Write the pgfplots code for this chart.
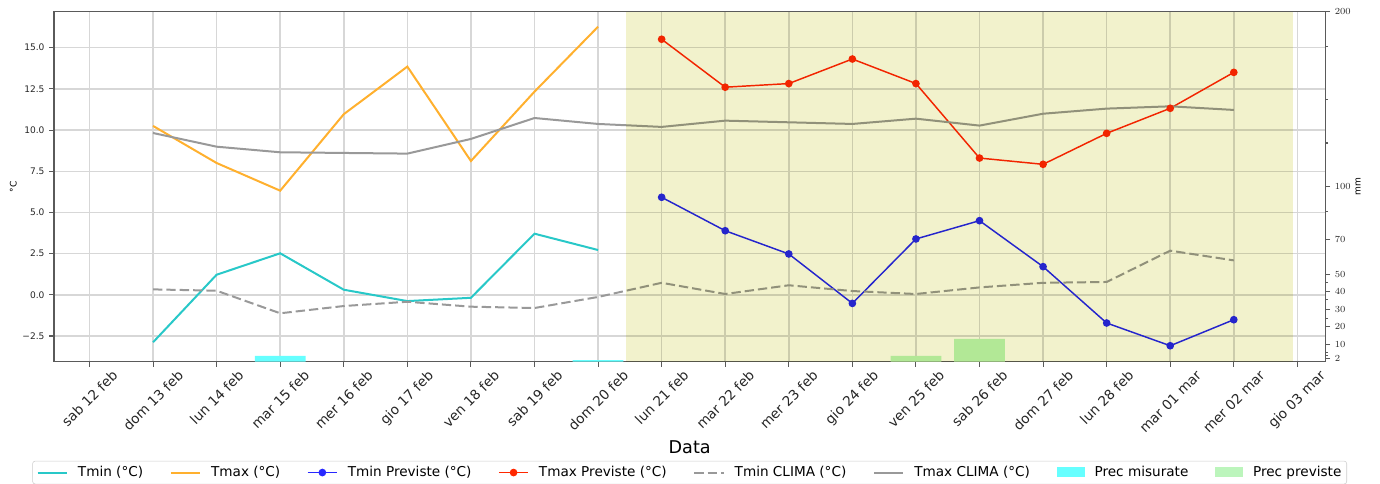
\documentclass[border=0pt]{standalone}
\usepackage{fontspec}
\setmainfont{DejaVu Sans}
\usepackage{pgfplots}
\pgfplotsset{compat=1.18}
\usepackage{pgfplotstable}

\definecolor{tminc}{RGB}{40,200,200}
\definecolor{tmaxc}{RGB}{255,176,46}
\definecolor{tminpc}{RGB}{40,40,255}
\definecolor{tmaxpc}{RGB}{255,40,0}
\definecolor{clima}{RGB}{153,153,153}
\definecolor{misur}{RGB}{102,255,255}
\definecolor{prevc}{RGB}{188,245,188}
\definecolor{fcst}{RGB}{242,242,204}
\definecolor{gridc}{RGB}{215,215,215}
\definecolor{spine}{RGB}{90,90,90}

% temperature series, x = day index (0 = sab 12 feb)
\pgfplotstableread{
x tmin tmax tminp tmaxp tminclima tmaxclima
1 -2.88 10.25 nan nan 0.33 9.82
2 1.22 8.00 nan nan 0.25 8.99
3 2.52 6.32 nan nan -1.12 8.65
4 0.31 10.96 nan nan -0.68 8.61
5 -0.38 13.85 nan nan -0.42 8.57
6 -0.18 8.12 nan nan -0.72 9.46
7 3.71 12.33 nan nan -0.80 10.73
8 2.72 16.27 nan nan -0.13 10.37
9 nan nan 5.92 15.51 0.73 10.19
10 nan nan 3.89 12.60 0.05 10.57
11 nan nan 2.48 12.82 0.58 10.47
12 nan nan -0.52 14.31 0.23 10.37
13 nan nan 3.39 12.82 0.05 10.69
14 nan nan 4.50 8.30 0.45 10.27
15 nan nan 1.71 7.92 0.73 10.99
16 nan nan -1.71 9.80 0.78 11.30
17 nan nan -3.09 11.32 2.68 11.44
18 nan nan -1.51 13.50 2.09 11.22
}\temps

\pgfplotsset{
  base/.style={
    width=953.5pt, height=262.5pt, scale only axis,
    at={(0,0)}, anchor=south west,
    xmin=-0.558, xmax=19.44,
    axis line style={spine, line width=0.8pt},
    tick style={spine, line width=0.8pt},
    major tick length=3.6pt, minor tick length=2pt,
    tick align=outside,
  },
  tminsty/.style={tminc, line width=1.5pt},
  tmaxsty/.style={tmaxc, line width=1.5pt},
  tminpsty/.style={tminpc, line width=1.1pt, mark=*, mark size=2.3pt, mark options={solid}},
  tmaxpsty/.style={tmaxpc, line width=1.1pt, mark=*, mark size=2.3pt, mark options={solid}},
  tmincsty/.style={clima, line width=1.5pt, dash pattern=on 7pt off 3pt},
  tmaxcsty/.style={clima, line width=1.5pt},
  linelegend/.style={legend image code/.code={\draw[mark repeat=2,mark phase=2,##1] plot coordinates {(0pt,0pt) (11pt,0pt) (22pt,0pt)};}},
  patchlegend/.style={legend image code/.code={\fill[sharp corners,##1] (0pt,-3.5pt) rectangle (21pt,4pt);}},
}

\begin{document}
\begin{tikzpicture}
\begin{axis}[base,
  ymin=-4.06, ymax=17.18,
  ytick={-2.5,0,2.5,5,7.5,10,12.5,15},
  yticklabels={−2.5,0.0,2.5,5.0,7.5,10.0,12.5,15.0},
  ytick pos=left,
  xtick={0,...,19},
  xticklabels={
    \rotatebox{45}{sab 12 feb},\rotatebox{45}{dom 13 feb},\rotatebox{45}{lun 14 feb},
    \rotatebox{45}{mar 15 feb},\rotatebox{45}{mer 16 feb},\rotatebox{45}{gio 17 feb},
    \rotatebox{45}{ven 18 feb},\rotatebox{45}{sab 19 feb},\rotatebox{45}{dom 20 feb},
    \rotatebox{45}{lun 21 feb},\rotatebox{45}{mar 22 feb},\rotatebox{45}{mer 23 feb},
    \rotatebox{45}{gio 24 feb},\rotatebox{45}{ven 25 feb},\rotatebox{45}{sab 26 feb},
    \rotatebox{45}{dom 27 feb},\rotatebox{45}{lun 28 feb},\rotatebox{45}{mar 01 mar},
    \rotatebox{45}{mer 02 mar},\rotatebox{45}{gio 03 mar}},
  xtick pos=bottom,
  grid=major, grid style={gridc, line width=1.1pt},
  y tick label style={font=\fontsize{6.8}{8}\selectfont, text=black!85},
  x tick label style={font=\fontsize{10.2}{12}\selectfont, anchor=north, inner sep=0pt, yshift=-2pt, text=black!85},
  ylabel={°C},
  ylabel style={at={(axis description cs:-0.032,0.5)}, anchor=center, font=\fontsize{6.8}{8}\selectfont},
  xlabel={Data},
  xlabel style={at={(axis description cs:0.5,-0.243)}, anchor=center, font=\fontsize{13.2}{15}\selectfont},
]
\addplot[tminsty] table[x=x, y=tmin] {\temps};
\addplot[tmaxsty] table[x=x, y=tmax] {\temps};
\addplot[tminpsty] table[x=x, y=tminp] {\temps};
\addplot[tmaxpsty] table[x=x, y=tmaxp] {\temps};
\addplot[tmincsty] table[x=x, y=tminclima] {\temps};
\addplot[tmaxcsty] table[x=x, y=tmaxclima] {\temps};
\end{axis}

\begin{axis}[base,
  ymin=0, ymax=200,
  xtick=\empty,
  ytick pos=right, yticklabel pos=right,
  ytick={2,10,20,30,40,50,70,100,200},
  minor ytick={3.3,5.2,24.8,35.3,45.2,85.7,125,150,180},
  y tick label style={font=\fontsize{6.8}{8}\selectfont, text=black!85},
  ylabel={mm},
  ylabel style={at={(axis description cs:1.0257,0.5)}, anchor=center, font=\fontsize{6.8}{8}\selectfont},
  linelegend,
  legend style={at={(0.5,-0.283)}, anchor=north, legend columns=8,
    draw=black!20, rounded corners=2pt, fill=white,
    font=\fontsize{10.2}{12.2}\selectfont,
    inner xsep=3pt, inner ysep=2pt,
    nodes={inner xsep=1pt},
    /tikz/every odd column/.append style={column sep=6.5pt},
    /tikz/every even column/.append style={column sep=19pt}},
  legend cell align=left,
]
\addlegendimage{tminsty}
\addlegendentry{Tmin (°C)}
\addlegendimage{tmaxsty}
\addlegendentry{Tmax (°C)}
\addlegendimage{tminpsty}
\addlegendentry{Tmin Previste (°C)}
\addlegendimage{tmaxpsty}
\addlegendentry{Tmax Previste (°C)}
\addlegendimage{tmincsty}
\addlegendentry{Tmin CLIMA (°C)}
\addlegendimage{tmaxcsty}
\addlegendentry{Tmax CLIMA (°C)}
\addplot[ybar, bar width=0.8, bar shift=0pt, fill=misur, draw=none, patchlegend]
  coordinates {(3,3.3) (8,0.9)};
\addlegendentry{Prec misurate}
\addplot[ybar, bar width=0.8, bar shift=0pt, fill=prevc, draw=none, patchlegend]
  coordinates {(13,3.3) (14,13.0)};
\addlegendentry{Prec previste}
% forecast period shading, drawn over everything
\addplot[draw=none, fill=fcst, blend mode=multiply, forget plot]
  coordinates {(8.4375,200) (18.9375,200)} \closedcycle;
\end{axis}
\pgfresetboundingbox
\path[use as bounding box] (-40.5pt,-91.7pt) rectangle (994.5pt,271.3pt);
\end{tikzpicture}
\end{document}
